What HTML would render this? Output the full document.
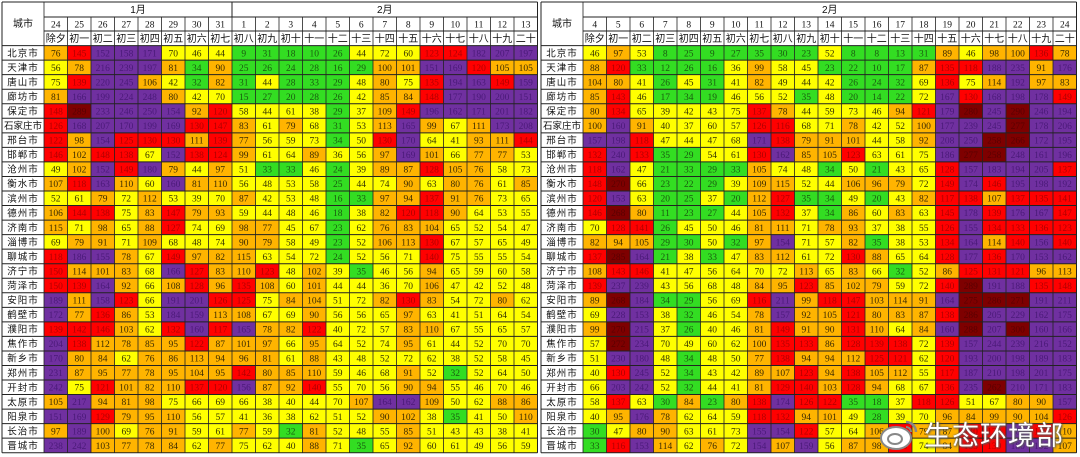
<!DOCTYPE html>
<html><head><meta charset="utf-8">
<style>
html,body{margin:0;padding:0;background:#fff;width:1080px;height:457px;overflow:hidden}
svg{display:block}
.num{font-family:"Liberation Serif","Noto Serif CJK SC",serif;font-size:9.5px}
.cn{font-family:"Liberation Sans","Noto Sans CJK SC",sans-serif;font-size:10px}
.city{font-family:"Liberation Sans","Noto Sans CJK SC",sans-serif;font-size:9.5px}
</style></head>
<body>
<svg id="chart" width="1080" height="457" xmlns="http://www.w3.org/2000/svg"></svg>
<div style="position:absolute;left:878px;top:414px;width:200px;height:40px;">
  <svg width="44" height="36" style="position:absolute;left:0;top:2px">
    <ellipse cx="18" cy="22" rx="15" ry="11" fill="#fff" stroke="#888" stroke-width="2"/>
    <ellipse cx="17" cy="23" rx="7" ry="5" fill="none" stroke="#888" stroke-width="2"/>
    <path d="M28 6 A10 10 0 0 1 38 16" fill="none" stroke="#888" stroke-width="2.5"/>
    <path d="M28 11 A5 5 0 0 1 33 16" fill="none" stroke="#888" stroke-width="2"/>
  </svg>
  <div style="position:absolute;left:46px;top:0;font-family:'Liberation Sans','Noto Sans CJK SC',sans-serif;font-size:27px;color:#fff;text-shadow:0 0 2px #666,1px 1px 2px #555;letter-spacing:1px;">生态环境部</div>
</div>
<script>
const cities=["北京市","天津市","唐山市","廊坊市","保定市","石家庄市","邢台市","邯郸市","沧州市","衡水市","滨州市","德州市","济南市","淄博市","聊城市","济宁市","菏泽市","安阳市","鹤壁市","濮阳市","焦作市","新乡市","郑州市","开封市","太原市","阳泉市","长治市","晋城市"];
const leftDates=["24","25","26","27","28","29","30","31","1","2","3","4","5","6","7","8","9","10","11","12","13"];
const rightDates=["4","5","6","7","8","9","10","11","12","13","14","15","16","17","18","19","20","21","22","23","24"];
const lunar=["除夕","初一","初二","初三","初四","初五","初六","初七","初八","初九","初十","十一","十二","十三","十四","十五","十六","十七","十八","十九","二十"];
const leftMonths=[["1月",8],["2月",13]];
const rightMonths=[["2月",21]];
const leftValues=[
[76,145,152,158,171,70,46,44,9,31,18,10,26,44,72,60,123,124,182,207,197],
[56,78,216,239,197,81,34,90,25,26,24,28,16,29,100,101,151,169,120,105,105],
[75,139,220,245,106,42,32,82,31,44,28,33,29,48,80,75,135,194,163,149,159],
[81,166,199,224,248,80,42,70,15,27,20,28,26,42,85,84,148,177,190,200,151],
[148,289,233,246,250,154,92,120,58,44,61,38,29,37,109,149,196,162,171,201,182],
[126,168,207,170,199,169,130,147,83,61,79,68,31,53,113,165,99,67,111,173,208],
[122,98,154,125,130,130,111,139,77,56,59,73,34,50,130,170,64,41,93,111,144],
[146,102,148,138,67,152,138,124,99,61,64,89,36,56,97,169,101,66,77,77,53],
[49,102,152,149,180,79,44,97,51,33,33,46,24,39,89,87,128,105,76,58,73],
[107,118,163,110,60,160,81,110,56,48,53,58,25,44,74,90,63,80,76,61,85],
[52,61,79,72,112,53,39,70,87,42,53,48,16,33,97,94,137,91,76,73,65],
[106,144,138,75,83,147,79,93,59,44,48,46,18,38,82,120,118,90,64,53,55],
[115,71,98,65,88,127,74,69,98,77,45,67,23,62,76,83,104,65,52,54,47],
[69,79,91,71,109,68,48,74,90,79,58,49,23,52,106,113,130,67,57,65,49],
[118,186,155,78,67,149,97,82,115,63,54,72,24,52,56,71,140,75,55,55,54],
[150,114,101,83,68,166,127,83,110,123,48,102,39,35,46,56,94,65,59,60,58],
[150,139,164,92,66,108,128,96,135,108,60,101,44,44,36,70,106,47,42,52,48],
[189,111,158,123,66,191,201,126,125,75,84,104,51,72,82,130,83,54,72,80,62],
[172,77,136,86,53,184,159,113,108,67,69,90,56,56,65,97,63,41,51,64,54],
[139,142,146,103,62,132,160,117,165,78,82,122,40,72,57,83,110,67,55,65,57],
[204,138,112,78,85,95,122,87,101,97,66,95,64,52,74,95,61,44,52,70,70],
[170,80,84,62,76,86,113,94,96,81,61,88,43,48,52,72,62,38,52,58,45],
[231,87,95,77,78,95,104,95,142,80,85,110,59,46,68,91,52,32,52,64,50],
[242,75,121,101,82,110,137,120,156,87,92,140,55,70,56,90,94,55,46,70,46],
[105,217,94,81,98,75,66,69,66,38,40,44,70,107,164,162,109,50,62,88,86],
[151,169,129,79,95,110,56,57,41,36,38,62,51,52,90,102,38,35,41,50,110],
[97,189,100,69,76,91,59,61,77,59,32,81,52,48,55,85,51,43,43,38,41],
[238,242,103,77,78,84,62,77,75,62,40,88,71,35,65,92,60,61,49,56,59]];
const rightValues=[
[46,97,53,8,25,9,27,35,30,23,52,8,8,13,31,89,46,98,100,136,78],
[88,120,33,12,26,16,36,99,58,45,23,22,10,17,87,135,118,188,235,91,176],
[104,80,41,26,45,31,41,82,49,44,42,26,24,32,69,136,75,114,192,97,83],
[85,143,46,17,34,19,46,56,52,35,48,20,14,22,72,167,130,168,198,178,149],
[80,134,65,39,42,43,75,137,78,44,59,73,46,94,121,179,280,245,290,246,194],
[100,160,91,40,37,60,57,126,116,68,71,78,42,52,100,177,239,245,277,178,206],
[157,198,118,47,44,47,68,171,138,79,91,101,44,58,92,208,250,258,266,172,195],
[132,240,133,35,29,54,61,130,162,85,105,123,63,61,75,186,277,258,248,161,196],
[118,162,47,21,33,29,33,105,74,48,34,50,21,43,65,128,157,183,194,205,137],
[148,270,66,23,22,29,39,109,115,52,44,106,96,79,72,149,174,146,195,198,192],
[120,153,63,20,25,37,20,112,127,35,34,49,20,43,82,117,138,107,137,135,141],
[146,268,80,11,23,27,44,105,132,37,34,86,60,83,63,145,178,139,176,167,147],
[70,128,141,26,45,50,46,81,111,71,78,93,37,38,55,126,155,134,133,136,123],
[82,94,105,29,30,50,32,97,154,71,57,82,35,38,53,134,164,114,140,156,140],
[137,285,164,21,38,33,47,83,112,61,72,130,88,65,64,128,177,136,170,153,162],
[108,143,146,41,47,56,64,70,72,113,65,83,66,32,52,86,125,131,121,96,113],
[139,237,239,43,56,68,48,84,95,123,85,102,79,59,72,140,289,191,188,135,148],
[89,268,184,34,29,56,69,116,211,99,118,147,103,114,91,164,275,286,271,191,211],
[69,228,153,38,32,46,54,78,157,92,105,121,80,83,87,138,286,205,229,162,175],
[99,270,215,37,26,40,46,81,149,91,90,131,110,64,84,160,288,207,300,160,166],
[57,272,234,70,49,60,62,100,135,133,86,128,139,138,72,139,157,244,239,216,152],
[51,230,180,48,34,48,50,77,138,94,94,112,125,121,62,120,193,200,198,189,183],
[40,130,245,52,34,43,42,89,107,123,94,138,105,112,55,117,187,210,198,201,175],
[66,203,242,52,32,44,41,81,129,140,103,128,94,68,67,136,235,262,210,171,183],
[58,137,63,30,84,23,80,138,174,126,122,35,18,37,118,126,51,67,80,90,157],
[40,95,176,78,62,64,59,118,132,94,101,49,28,39,70,96,84,99,90,104,126],
[30,47,80,90,63,61,73,155,154,122,57,64,106,130,79,87,140,130,160,145,110],
[33,116,153,114,62,76,72,154,107,159,56,87,98,130,74,84,135,139,180,192,107]];

const NS="http://www.w3.org/2000/svg";
const svg=document.getElementById('chart');
function colorFor(v){
  if(v<=35) return ["#33dd22","#1a5a10"];
  if(v<=75) return ["#ffff00","#333300"];
  if(v<=115) return ["#ffb400","#3a2a00"];
  if(v<=150) return ["#ff0000","#b00000"];
  if(v<=250) return ["#7030a0","#4a1a78"];
  return ["#7e0000","#5a0000"];
}
function mk(tag,attrs){const e=document.createElementNS(NS,tag);for(const k in attrs)e.setAttribute(k,attrs[k]);return e;}
const H1=2,H2=17,H3=31,D0=45.6,RH=14.54,CW=23.5;
function xScale(x0,cityW,i){return x0+cityW+i*CW;}
function yScale(r){return D0+r*RH;}
function drawTable(x0,cityW,dates,values,months,prefix){
  const g=mk('g',{});
  
  
  svg.appendChild(g);
  const n=dates.length;
  const x1=xScale(x0,cityW,n);
  const yEnd=yScale(cities.length);
  values.forEach((row,r)=>{
    row.forEach((v,c)=>{
      const [bg,fg]=colorFor(v);
      const rc=mk('rect',{x:xScale(x0,cityW,c),y:yScale(r),width:CW,height:RH,fill:bg});
      
      
      g.appendChild(rc);
      const t=mk('text',{x:xScale(x0,cityW,c)+CW/2,y:yScale(r)+RH/2+3.4,'text-anchor':'middle',fill:fg,class:'num'});
      t.textContent=v;
      
      
      g.appendChild(t);
    });
    const name=cities[r];
    const attrs={x:x0+cityW/2,y:yScale(r)+RH/2+3.5,'text-anchor':'middle',fill:'#111',class:'city'};
    if(name.length>=4){attrs.textLength=38;attrs.lengthAdjust='spacingAndGlyphs';}
    else attrs['letter-spacing']='1';
    const ct=mk('text',attrs);
    ct.textContent=name;
    
    
    g.appendChild(ct);
  });
  let ci=0;
  months.forEach(([m,span])=>{
    const xa=xScale(x0,cityW,ci),xb=xScale(x0,cityW,ci+span);
    const t=mk('text',{x:(xa+xb)/2,y:H1+11,'text-anchor':'middle',fill:'#111',class:'cn'});
    t.textContent=m;
    
    
    g.appendChild(t);
    if(ci>0) g.appendChild(mk('line',{x1:xa,x2:xa,y1:H1,y2:H2,stroke:'#222','stroke-width':1}));
    ci+=span;
  });
  dates.forEach((d,i)=>{
    const cx=xScale(x0,cityW,i)+CW/2;
    const t=mk('text',{x:cx,y:H2+10.5,'text-anchor':'middle',fill:'#111',class:'num'});
    t.textContent=d;
    
    
    g.appendChild(t);
    const t2=mk('text',{x:cx,y:H3+11,'text-anchor':'middle',fill:'#111',class:'cn'});
    t2.textContent=lunar[i];
    
    
    g.appendChild(t2);
  });
  const ch=mk('text',{x:x0+cityW/2,y:27,'text-anchor':'middle',fill:'#111',class:'cn'});
  ch.textContent='城市';
  
  
  g.appendChild(ch);
  const ln=(a,b,c,d,w)=>g.appendChild(mk('line',{x1:a,y1:b,x2:c,y2:d,stroke:'#222','stroke-width':w||1}));
  ln(x0,H1,x1,H1);ln(xScale(x0,cityW,0),H2,x1,H2);ln(xScale(x0,cityW,0),H3,x1,H3);
  for(let r=0;r<=cities.length;r++) ln(x0,yScale(r),x1,yScale(r));
  ln(x0,H1,x0,yEnd);ln(x1,H1,x1,yEnd);
  for(let i=0;i<=n;i++) ln(xScale(x0,cityW,i),(i==0?H1:H2),xScale(x0,cityW,i),yEnd,0.8);
}
drawTable(2,42,leftDates,leftValues,leftMonths,'left');
drawTable(541,42,rightDates,rightValues,rightMonths,'right');
</script>
</body></html>
